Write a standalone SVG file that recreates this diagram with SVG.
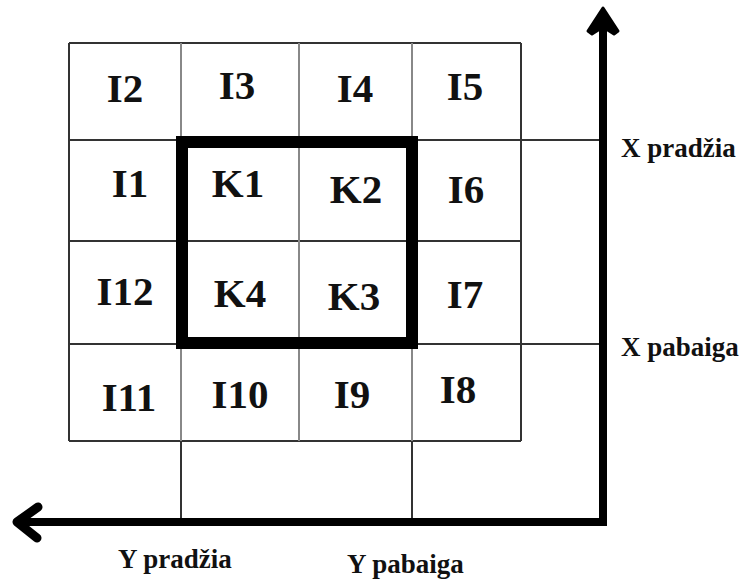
<svg xmlns="http://www.w3.org/2000/svg" width="748" height="580" viewBox="0 0 748 580">
<style>
.h{stroke:#333;stroke-width:2;fill:none}
.v{stroke:#888;stroke-width:2;fill:none}
.o{stroke:#333;stroke-width:2;fill:none}
.cell{font-family:"Liberation Serif","Times New Roman",serif;font-weight:bold;font-size:41px;fill:#111;text-anchor:middle}
.lab{font-family:"Liberation Serif","Times New Roman",serif;font-weight:bold;font-size:27px;fill:#111}
.ax{stroke:#000;stroke-width:8;fill:none}
</style>
<rect width="748" height="580" fill="#fff"/>
<g id="connectors">
<g id="grid">
<line class="h" x1="69" y1="43" x2="521" y2="43"/>
<line class="h" x1="69" y1="140" x2="603" y2="140"/>
<line class="h" x1="69" y1="241" x2="521" y2="241"/>
<line class="h" x1="69" y1="344" x2="603" y2="344"/>
<line class="h" x1="69" y1="441" x2="521" y2="441"/>
<line class="o" x1="69" y1="43" x2="69" y2="441"/>
<line class="o" x1="521" y1="43" x2="521" y2="441"/>
<line class="v" x1="181" y1="43" x2="181" y2="441"/>
<line class="v" x1="299" y1="43" x2="299" y2="441"/>
<line class="v" x1="412" y1="43" x2="412" y2="441"/>
<line class="o" x1="181" y1="441" x2="181" y2="522"/>
<line class="o" x1="412" y1="441" x2="412" y2="522"/>
</g>
<rect id="kbox" x="182" y="142" width="230" height="201" fill="none" stroke="#000" stroke-width="12"/>
<g id="axes">
<line class="ax" x1="603" y1="526" x2="603" y2="24"/>
<path d="M603,8 L588,31 L592,34 L603,27 L614,34 L618,31 Z" fill="#000" stroke="#000" stroke-width="3" stroke-linejoin="round"/>
<line class="ax" x1="607" y1="522" x2="20" y2="522"/>
<polyline points="38,507 17,522 37,538" fill="none" stroke="#000" stroke-width="9" stroke-linecap="round" stroke-linejoin="round"/>
</g>
</g>
<g id="I2"><text class="cell" x="125" y="102">I2</text></g>
<g id="I3"><text class="cell" x="237" y="99">I3</text></g>
<g id="I4"><text class="cell" x="355" y="102">I4</text></g>
<g id="I5"><text class="cell" x="465" y="100">I5</text></g>
<g id="I1"><text class="cell" x="130" y="197">I1</text></g>
<g id="K1"><text class="cell" x="238" y="197">K1</text></g>
<g id="K2"><text class="cell" x="356" y="203">K2</text></g>
<g id="I6"><text class="cell" x="466" y="203">I6</text></g>
<g id="I12"><text class="cell" x="125" y="305">I12</text></g>
<g id="K4"><text class="cell" x="240" y="307">K4</text></g>
<g id="K3"><text class="cell" x="354" y="310">K3</text></g>
<g id="I7"><text class="cell" x="465" y="308">I7</text></g>
<g id="I11"><text class="cell" x="129" y="411">I11</text></g>
<g id="I10"><text class="cell" x="240" y="408">I10</text></g>
<g id="I9"><text class="cell" x="352" y="408">I9</text></g>
<g id="I8"><text class="cell" x="458" y="403">I8</text></g>
<g id="label-x-pradzia"><text class="lab" x="621" y="157">X pradžia</text></g>
<g id="label-x-pabaiga"><text class="lab" x="621" y="356">X pabaiga</text></g>
<g id="label-y-pradzia"><text class="lab" x="118" y="568">Y pradžia</text></g>
<g id="label-y-pabaiga"><text class="lab" x="347" y="573">Y pabaiga</text></g>
</svg>
